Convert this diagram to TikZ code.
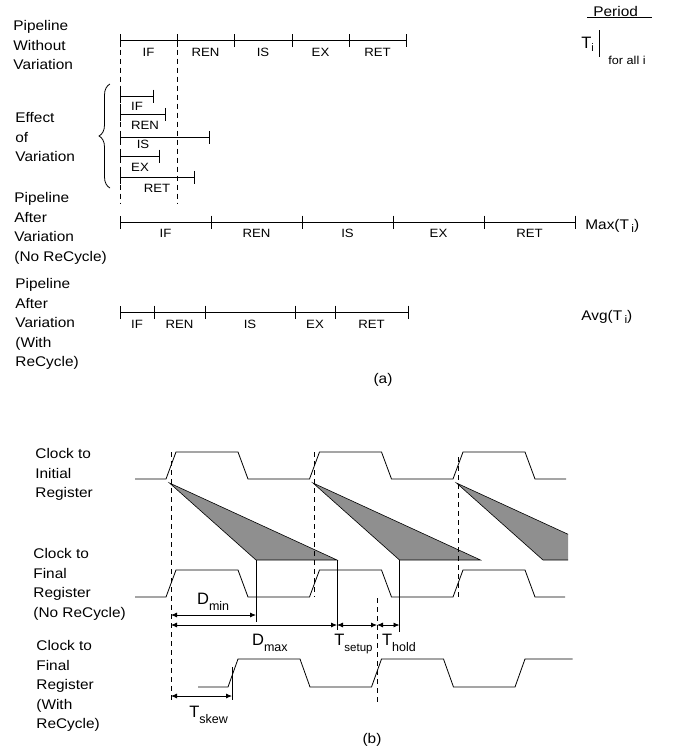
\documentclass[tikz,border=0pt]{standalone}
\usepackage{fontspec}
\setmainfont{Liberation Sans}[FakeStretch=1.1]
\newfontfamily\plainsans{Liberation Sans}
\usepackage{tikz}
\usetikzlibrary{arrows.meta,positioning,calc,decorations.pathreplacing}
\definecolor{conegray}{gray}{0.56}
\newcommand{\dsub}[2][12.5]{\raisebox{-6pt}{\fontsize{#1}{#1}\selectfont #2}}
\newcommand{\isub}{\raisebox{-3pt}{\fontsize{11}{11}\selectfont i}}

\begin{document}
\begin{tikzpicture}[x=1pt,y=-1pt,line width=0.8pt,>={Latex[length=6pt,width=5pt]},
    seg/.style={{Bar[width=13pt]}-{Bar[width=13pt]}, shorten <=-0.4pt, shorten >=-0.4pt},
    stage/.style={font=\fontsize{12}{12}\selectfont, inner sep=0pt, below=7pt},
    elbl/.style={font=\fontsize{12}{12}\selectfont, inner sep=0pt},
    side/.style={font=\fontsize{14}{19.6}\selectfont, align=left, anchor=north west, inner sep=0pt},
    txt/.style={font=\fontsize{14}{14}\selectfont, inner sep=0pt},
    big/.style={font=\plainsans\fontsize{16.5}{16}\selectfont, inner sep=0pt, anchor=base west},
    guide/.style={dash pattern=on 5pt off 4pt, line width=0.6pt},
    cone/.style={draw=black, fill=conegray, line width=0.6pt},
    dim/.style={<->}]
  \useasboundingbox (0,0) rectangle (681,750);
  % ---- (a) pipeline ----
  \node[side] (noVar) at (13,20) {Pipeline\\Without\\Variation};
  \node[side] (effVar) at (15,112) {Effect\\of\\Variation};
  \node[side] (noRec) at (14,192) {Pipeline\\After\\Variation\\(No ReCycle)};
  \node[side] (withRec) at (15,278) {Pipeline\\After\\Variation\\(With\\ReCycle)};
  \node[txt, anchor=base west] (period) at (593,16) {Period};
  \draw ([xshift=-6pt,yshift=-1.5pt]period.base west) -- ([xshift=14pt,yshift=-1.5pt]period.base east);
  \node[big] (perT) at (581,48.3) {T\isub};
  \draw (599,30) -- (599,57);
  \node[font=\fontsize{11.5}{12}\selectfont, inner sep=0pt, anchor=base west] (forAll) at (608,64) {for all i};
  % stages without variation
  \foreach \a/\b/\s in {120/177/IF,177/234/REN,234/292/IS,292/349/EX,349/406/RET}
    \draw[seg] (\a,40.7) -- node[stage] (top\s) {\s} (\b,40.7);
  \draw[guide] (120,40.7) -- (120,204);
  \draw[guide] (177,40.7) -- (177,204);
  % effect of variation
  \draw[decorate, decoration={brace, amplitude=11pt}] (110,188) -- (110,84);
  \foreach \e/\y/\s/\lx/\ly in {153/96/IF/137/106, 165/114.3/REN/145/125, 209/137.3/IS/143/144,
                               159/156/EX/140/167, 194/177.3/RET/157/188}
  {
    \draw[seg] (120,\y) -- (\e,\y);
    \node[elbl] (eff\s) at (\lx,\ly) {\s};
  }
  % no recycle: every stage gets Max(T_i)
  \foreach \a/\b/\s in {120/211/IF,211/302/REN,302/393/IS,393/484/EX,484/575/RET}
    \draw[seg] (\a,222) -- node[stage] (max\s) {\s} (\b,222);
  \node[txt, anchor=base west] (maxT) at (585,229.3) {Max(T\,\isub)};
  % with recycle
  \foreach \a/\b/\s in {120/154/IF,154/205/REN,205/295/IS,295/335/EX,335/408/RET}
    \draw[seg] (\a,312) -- node[stage, below=8pt] (avg\s) {\s} (\b,312);
  \node[txt, anchor=base west] (avgT) at (581,320.3) {Avg(T\,\isub)};
  \node[txt] (capA) at (383,380) {(a)};
  % ---- (b) clocks ----
  \node[side] (clkInit) at (35,448) {Clock to\\Initial\\Register};
  \node[side] (clkFin) at (33,548) {Clock to\\Final\\Register\\(No ReCycle)};
  \node[side] (clkRec) at (36,640) {Clock to\\Final\\Register\\(With\\ReCycle)};
  \begin{scope}
    \clip (0,0) rectangle (568,750);
    \foreach \k in {0,1,2}
      \filldraw[cone] ({169.5+143.5*\k},483) -- ++(86.5,77) -- ++(81,0) -- cycle;
  \end{scope}
  \draw (135,479) foreach \k in {0,1,2} { -- ({166+143.5*\k},479) -- ++(10,-27) -- ++(62,0) -- ++(10,27) } -- (566,479);
  \draw (135,597) foreach \k in {0,1,2} { -- ({166+143.5*\k},597) -- ++(10,-27) -- ++(62,0) -- ++(10,27) } -- (565,597);
  \draw (198,687) foreach \k in {0,1} { -- ({228+143.5*\k},687) -- ++(10,-28) -- ++(62,0) -- ++(10,28) }
    -- (515,687) -- ++(10,-28) -- (572.7,659);
  \draw[guide] (171,452) -- (171,702);
  \draw[guide] (314.5,452) -- (314.5,597);
  \draw[guide] (458,457) -- (458,597);
  \draw[guide] (377,598) -- (377,703);
  % ---- delays ----
  \coordinate (launchA) at (171,615);
  \coordinate (launchB) at (171,625);
  \coordinate (launchC) at (171,696);
  \coordinate (minEnd) at (256,615);
  \coordinate (maxEnd) at (337,625);
  \coordinate (capEdge) at (377,625);
  \coordinate (holdEnd) at (399.5,625);
  \coordinate (skewEnd) at (232,696);
  \draw (minEnd |- 0,560) -- ([yshift=-7pt]minEnd);
  \draw (maxEnd |- 0,560) -- ([yshift=-5pt]maxEnd);
  \draw (holdEnd |- 0,560) -- ([yshift=-7pt]holdEnd);
  \draw ([yshift=29pt]skewEnd) -- ([yshift=-4pt]skewEnd);
  \draw[dim] (launchA) -- (minEnd);
  \draw[dim] (launchB) -- (maxEnd);
  \draw[dim] (maxEnd) -- (capEdge);
  \draw[dim] (capEdge) -- (holdEnd);
  \draw[dim] (launchC) -- (skewEnd);
  \node[big] (dMin) at (196.7,604.7) {D\dsub{min}};
  \node[big] (dMax) at (251.7,645.7) {D\dsub{max}};
  \node[big] (tSetup) at (334,645.7) {T\dsub[11.5]{setup}};
  \node[big] (tHold) at (381.7,645) {T\dsub{hold}};
  \node[big] (tSkew) at (189,717.7) {T\dsub{skew}};
  \node[txt] (capB) at (372,740) {(b)};
\end{tikzpicture}
\end{document}
